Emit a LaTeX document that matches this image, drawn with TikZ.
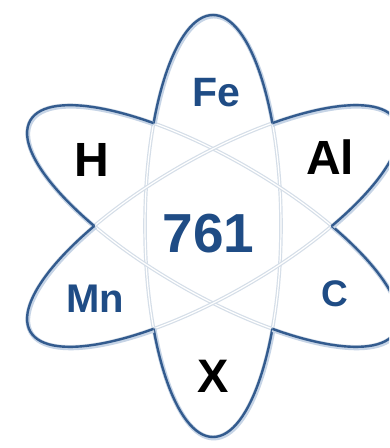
\documentclass[tikz,border=0pt]{standalone}
\usepackage{fontspec}
\setmainfont{Liberation Sans}
\definecolor{outl}{HTML}{335B8E}
\definecolor{txtb}{HTML}{1F4C85}
\definecolor{faint}{HTML}{D5DEE8}
\definecolor{glow}{HTML}{C6D4E6}
\tikzset{
  orbit/.style={x radius=68, y radius=211},
  faintline/.style={draw=faint, line width=3.6pt},
  faintcore/.style={draw=white, line width=1.2pt},
  outerline/.style={draw=outl, line width=2.4pt},
  glowline/.style={draw=glow, line width=4.5pt},
  lbl/.style={anchor=base, inner sep=0pt, font=\bfseries},
}
\begin{document}
\begin{tikzpicture}[x=1pt,y=1pt]
\useasboundingbox (0,0) rectangle (389,448);
\fill[white] (0,0) rectangle (389,448);
\clip (0,0) rectangle (389,448);
\coordinate (o) at (213,222);
% faint inner lines
\foreach \r in {0,60,-60}{
  \path[faintline] (o) ellipse [orbit, rotate=\r];
  \path[faintcore] (o) ellipse [orbit, rotate=\r];
}
% outer boundary: one orbit at a time, clipped to the outside of the other two
\foreach \r/\p/\q in {0/60/-60, 60/0/-60, -60/0/60}{
  \begin{scope}[even odd rule]
    \clip (-10,-10) rectangle (400,460) (o) ellipse [orbit, rotate=\p];
    \clip (-10,-10) rectangle (400,460) (o) ellipse [orbit, rotate=\q];
    \path[glowline] ([shift={(0.8,-1.2)}]o) ellipse [orbit, rotate=\r];
    \path[outerline] (o) ellipse [orbit, rotate=\r];
  \end{scope}
}
% labels
\node[lbl, txtb, font=\bfseries\fontsize{41}{41}\selectfont] (fe) at (216,341) {Fe};
\node[lbl, black, font=\bfseries\fontsize{48}{48}\selectfont] (h) at (92,271) {H};
\node[lbl, black, font=\bfseries\fontsize{48}{48}\selectfont] (al) at (330,273) {Al};
\node[lbl, txtb, font=\bfseries\fontsize{55}{55}\selectfont] (num) at (208.5,195) {761};
\node[lbl, txtb, font=\bfseries\fontsize{40}{40}\selectfont] (mn) at (95,135) {Mn};
\node[lbl, txtb, font=\bfseries\fontsize{37}{37}\selectfont] (c) at (334.5,141) {C};
\node[lbl, black, font=\bfseries\fontsize{47}{47}\selectfont] (x) at (213,56) {X};
\end{tikzpicture}
\end{document}
